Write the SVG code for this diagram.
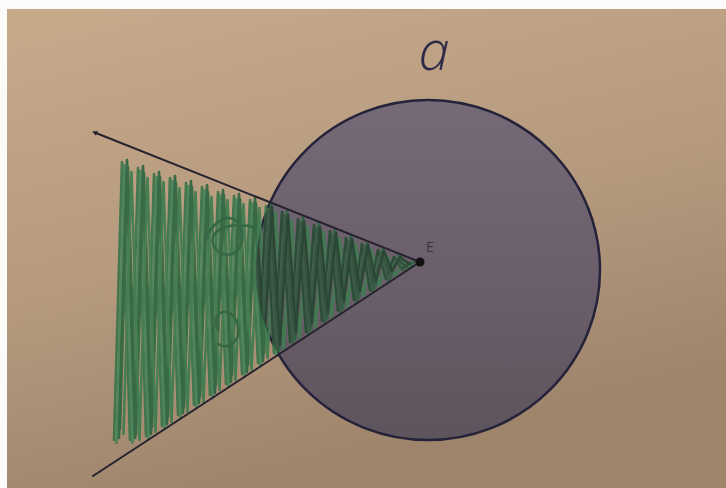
<svg xmlns="http://www.w3.org/2000/svg" width="726" height="488" viewBox="0 0 726 488">
<style>
.ray{stroke:#27222f;stroke-width:2;fill:none;stroke-linecap:round}
.scr{fill:none;stroke-linejoin:round;stroke-linecap:round}
.lbl{font-family:"Open Sans","DejaVu Sans",sans-serif}
</style>
<defs>
<linearGradient id="bg" x1="0" y1="0" x2="0.35" y2="1">
<stop offset="0" stop-color="#c8aa8b"/>
<stop offset="0.55" stop-color="#b59a7e"/>
<stop offset="1" stop-color="#9e846b"/>
</linearGradient>
<linearGradient id="disc" x1="0" y1="0" x2="0" y2="1">
<stop offset="0" stop-color="#766a78"/>
<stop offset="1" stop-color="#5e545d"/>
</linearGradient>
<clipPath id="inCircle"><ellipse cx="428" cy="270" rx="172" ry="170"/></clipPath>
<clipPath id="wedge"><path d="M96,133 L420,262 L93,476 L60,476 L60,133 z"/></clipPath>
<marker id="tip" viewBox="0 0 10 10" refX="2" refY="5" markerWidth="2.6" markerHeight="2.6" orient="auto-start-reverse">
<path d="M0,0 L10,5 L0,10 z" fill="#27222f"/>
</marker>
<path id="scrib1" d="M114,440 L122,162 L130,440 L138,168 L146,436 L154,174 L162,426 L170,178 L178,415 L186,183 L194,405 L202,187 L210,395 L218,192 L226,384 L234,196 L242,374 L250,200 L258,363 L266,206 L274,353 L282,212 L290,342 L298,219 L306,332 L314,225 L322,321 L330,231 L338,311 L346,238 L354,300 L362,244 L370,290 L378,250 L386,279 L394,257 L402,269 L410,263"/>
<path id="scrib2" d="M118,432 L126,170 L134,438 L142,176 L150,430 L158,180 L166,420 L174,186 L182,410 L190,190 L198,400 L206,195 L214,388 L222,198 L230,378 L238,202 L246,368 L254,206 L262,356 L270,210 L278,348 L286,218 L294,336 L302,224 L310,326 L318,230 L326,316 L334,236 L342,304 L350,242 L358,294 L366,248 L374,284 L382,254 L390,274 L398,260 L406,266"/>
<path id="loops" d="M205,240 C215,215 238,210 242,232 C246,255 222,262 214,246 C206,230 232,220 256,228 M218,330 C210,312 228,305 236,320 C244,338 230,352 218,344"/>
</defs>

<g id="background">
<rect x="0" y="0" width="726" height="488" fill="#fbfbfa"/>
<rect x="7" y="9" width="719" height="479" fill="url(#bg)"/>
</g>

<g id="disc-node">
<ellipse cx="428" cy="270" rx="172" ry="170" fill="url(#disc)" stroke="#25233a" stroke-width="2.5"/>
</g>

<g id="shading">
<g class="scr" stroke="#3a7449" stroke-width="2.6" opacity="0.92">
<use href="#scrib1"/>
<use href="#scrib2" stroke="#2f6a42"/>
<use href="#scrib1" transform="translate(2.5,3)" stroke="#46845a"/>
<use href="#scrib2" transform="translate(2,-3)" stroke="#356e46"/>
<g clip-path="url(#wedge)">
<use href="#scrib1" transform="translate(5,-2)" stroke="#2d6640"/>
<use href="#scrib2" transform="translate(5.5,2)" stroke="#3f7c50"/>
</g>
<use href="#loops" stroke="#2c6340"/>
</g>
<g class="scr" stroke="#2f4a3a" stroke-width="2.4" clip-path="url(#inCircle)">
<use href="#scrib1"/>
<use href="#scrib2" stroke="#36523f"/>
<use href="#scrib1" transform="translate(2.5,3)" stroke="#3b5a45"/>
<use href="#scrib2" transform="translate(2,-3)" stroke="#2c4636"/>
</g>
</g>

<g id="connectors">
<line class="ray" x1="420" y1="262" x2="96" y2="133" marker-end="url(#tip)"/>
<line class="ray" x1="420" y1="262" x2="93" y2="476" stroke-width="2.4"/>
</g>

<g id="point-E">
<circle cx="420" cy="262" r="4.5" fill="#111"/>
<text class="lbl" x="426" y="252" font-size="14" fill="#3a3440">E</text>
</g>

<g id="label-a">
<text class="lbl" x="434" y="70" font-size="56" font-style="italic" font-weight="300" fill="#2e2a48" text-anchor="middle">a</text>
</g>
</svg>
